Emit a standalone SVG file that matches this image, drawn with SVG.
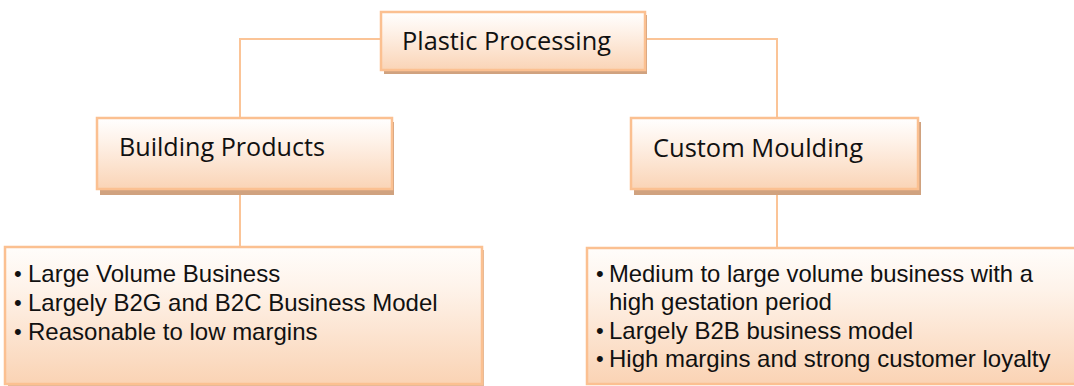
<svg xmlns="http://www.w3.org/2000/svg" width="1074" height="386" viewBox="0 0 1074 386">
  <defs>
    <linearGradient id="fillPeach" x1="0" y1="0" x2="0" y2="1">
      <stop offset="0" stop-color="#FFFFFF"/>
      <stop offset="0.35" stop-color="#FEF1E7"/>
      <stop offset="1" stop-color="#FAD4B6"/>
    </linearGradient>
    <linearGradient id="fillPeachTall" x1="0" y1="0" x2="0" y2="1">
      <stop offset="0" stop-color="#FFFDFB"/>
      <stop offset="0.3" stop-color="#FEF3EA"/>
      <stop offset="1" stop-color="#FAD3B4"/>
    </linearGradient>
  </defs>
  <style>
    .shadow { fill: #D0A27F; }
    .shadowSoft { fill: #E2B997; }
    .box { fill: url(#fillPeach); stroke: #FBC091; stroke-width: 2.5; }
    .boxTall { fill: url(#fillPeachTall); stroke: #FBC091; stroke-width: 2.5; }
    .title { font-family: "Open Sans", "Noto Sans", "DejaVu Sans", sans-serif; fill: #111111; }
    .item { font-family: "Liberation Sans", Arial, sans-serif; font-size: 24px; fill: #111111; }
    .bullet { font-family: "Liberation Sans", Arial, sans-serif; font-size: 22px; fill: #111111; }
    .link { fill: none; stroke: #FBC497; stroke-width: 2; }
  </style>

  <rect width="1074" height="386" fill="#FFFFFF"/>

  <!-- connectors -->
  <g id="connectors">
    <polyline class="link" points="240,118 240,39 381,39"/>
    <polyline class="link" points="645,39 777,39 777,118"/>
    <line class="link" x1="240" y1="190" x2="240" y2="247"/>
    <line class="link" x1="777" y1="190" x2="777" y2="248"/>
  </g>

  <!-- root -->
  <g id="plastic-processing">
    <rect class="shadow" x="384" y="15" width="263" height="59"/>
    <rect class="box" x="381" y="12" width="264" height="58"/>
    <text class="title" x="402" y="50" font-size="25" textLength="209" lengthAdjust="spacingAndGlyphs">Plastic Processing</text>
  </g>

  <!-- branches -->
  <g id="building-products">
    <rect class="shadow" x="100" y="122" width="294" height="73"/>
    <rect class="box" x="97" y="118" width="295" height="71"/>
    <text class="title" x="119" y="156" font-size="25" textLength="206" lengthAdjust="spacingAndGlyphs">Building Products</text>
  </g>

  <g id="custom-moulding">
    <rect class="shadow" x="634" y="122" width="287" height="73"/>
    <rect class="box" x="631" y="118" width="287" height="71"/>
    <text class="title" x="653" y="157" font-size="25" textLength="210" lengthAdjust="spacingAndGlyphs">Custom Moulding</text>
  </g>

  <!-- detail boxes -->
  <g id="building-products-details">
    <rect class="shadowSoft" x="8" y="250" width="476" height="136"/>
    <rect class="boxTall" x="5" y="247" width="477" height="137"/>
    <text class="bullet" x="14" y="281">•</text>
    <text class="item" x="28" y="282">Large Volume Business</text>
    <text class="bullet" x="14" y="310">•</text>
    <text class="item" x="28" y="311">Largely B2G and B2C Business Model</text>
    <text class="bullet" x="14" y="339">•</text>
    <text class="item" x="28" y="340">Reasonable to low margins</text>
  </g>

  <g id="custom-moulding-details">
    <rect class="boxTall" x="587" y="248" width="500" height="136"/>
    <text class="bullet" x="596" y="281">•</text>
    <text class="item" x="609" y="282" textLength="424" lengthAdjust="spacingAndGlyphs">Medium to large volume business with a</text>
    <text class="item" x="609" y="310">high gestation period</text>
    <text class="bullet" x="596" y="338">•</text>
    <text class="item" x="609" y="339">Largely B2B business model</text>
    <text class="bullet" x="596" y="366">•</text>
    <text class="item" x="609" y="367">High margins and strong customer loyalty</text>
  </g>
</svg>
